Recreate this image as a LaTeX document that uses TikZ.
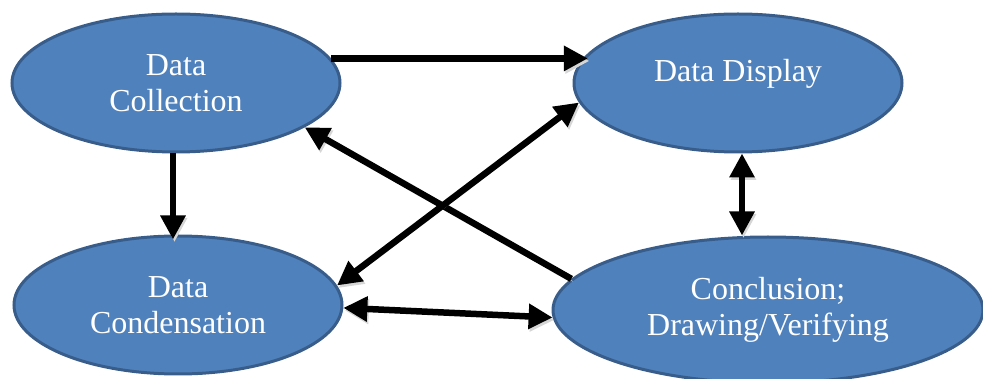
\documentclass[tikz,border=0pt]{standalone}
\usepackage{fontspec}
\setmainfont{Liberation Serif}
\usetikzlibrary{shapes.geometric,arrows.meta}
\definecolor{ellfill}{HTML}{4F81BD}
\definecolor{elldraw}{HTML}{385D8A}
\begin{document}
\begin{tikzpicture}[x=1pt,y=-1pt,
  ell/.style={ellipse, draw=elldraw, fill=ellfill, line width=3pt, inner sep=0pt,
    text=white, font=\fontsize{32}{36.5}\selectfont, align=center},
  smallell/.style={ell, minimum width=328pt, minimum height=138pt},
  tipx/.tip={Triangle[length=24pt,width=24pt]},
  shadowed/.style={preaction={draw=black!16, transform canvas={shift={(1.5pt,-2.5pt)}}}},
  conn/.style={line width=6.5pt, draw=black, -tipx, shadowed},
  both/.style={line width=6.5pt, draw=black, tipx-tipx, shadowed}]
\useasboundingbox (0,0) rectangle (983,379);
\node[smallell] (dc) at (176,83) {Data\\Collection};
\node[smallell, text height=22pt, text depth=24pt] (dd) at (738,83) {Data Display};
\node[smallell] (dn) at (178,305) {Data\\Condensation};
\node[ell, minimum width=430pt, minimum height=146pt] (co) at (768,310) {Conclusion;\\Drawing/Verifying};
\coordinate (b1) at ([xshift=-3pt]dc.south);
\coordinate (f1) at ([xshift=4pt]dd.south);
\draw[conn, shorten >=-5pt] (dc.9.46) -- (dd.171.5);
\draw[conn, shorten >=-5pt] (b1) -- (b1 |- dn.north);
\draw[conn] (co.171.4) -- (dc.-19.65);
\draw[both] (dn.7.17) -- (dd.187.3);
\draw[both] (dn.-1.43) -- (co.182.7);
\draw[both] (f1) -- (f1 |- co.north);
\end{tikzpicture}
\end{document}
